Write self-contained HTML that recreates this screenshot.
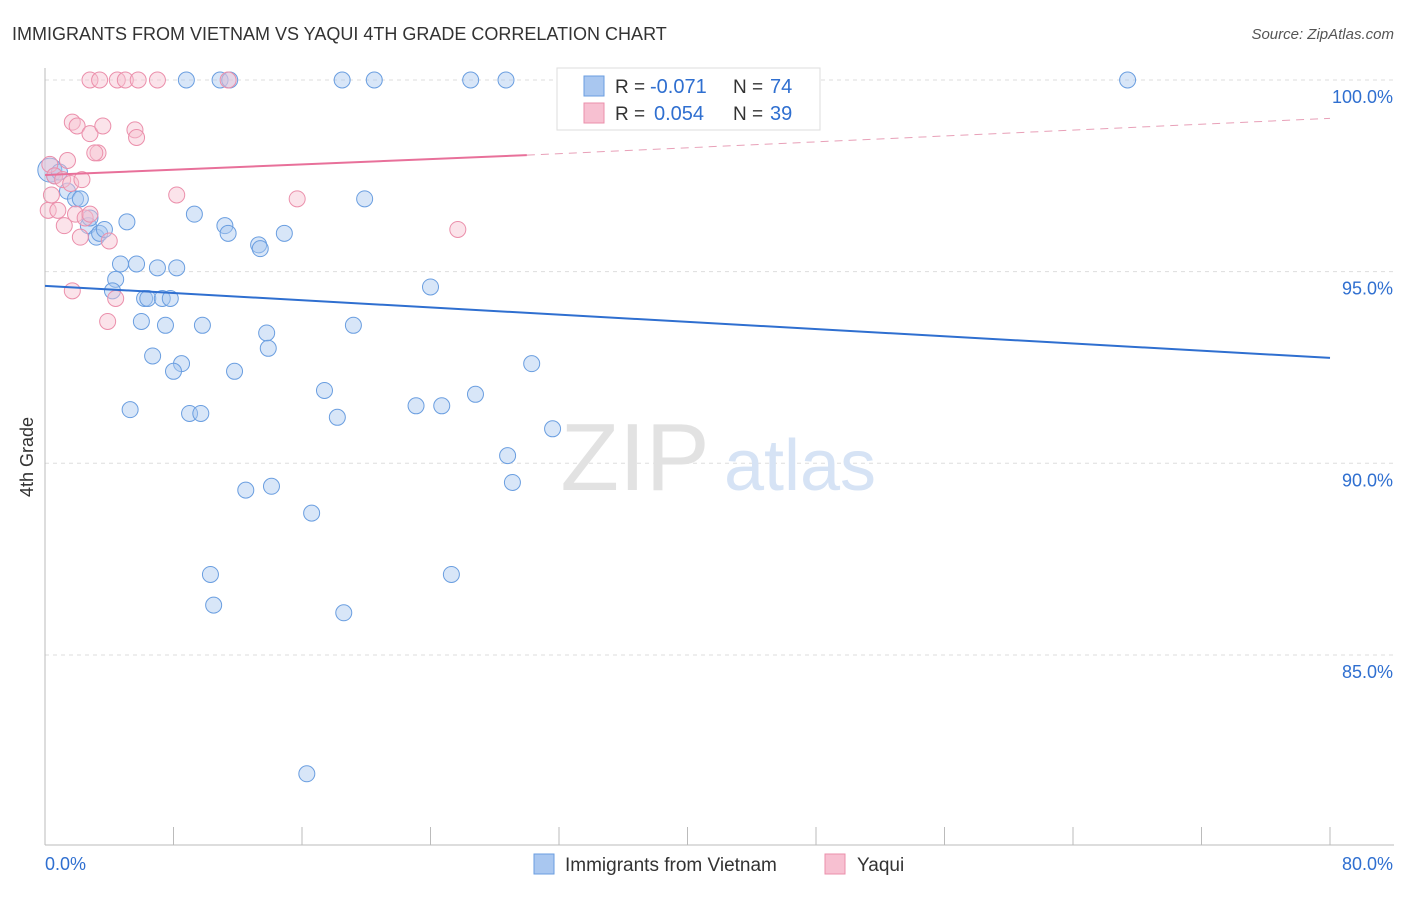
<!DOCTYPE html>
<html><head><meta charset="utf-8"><style>
body{margin:0;background:#fff;font-family:"Liberation Sans",sans-serif;}
svg text{font-family:"Liberation Sans",sans-serif;}
</style></head><body>
<svg width="1406" height="892" viewBox="0 0 1406 892" xmlns="http://www.w3.org/2000/svg">
<text x="12" y="40" font-size="18" fill="#333">IMMIGRANTS FROM VIETNAM VS YAQUI 4TH GRADE CORRELATION CHART</text>
<text x="1394" y="39" font-size="15" fill="#555" text-anchor="end" font-style="italic">Source: ZipAtlas.com</text>
<g id="grid"></g>
<g>
<text x="635" y="490" font-size="96" fill="#e2e2e2" text-anchor="middle" font-family="Liberation Serif">ZIP</text>
<text x="800" y="490" font-size="72" fill="#d6e3f5" text-anchor="middle">atlas</text>
</g>
<g id="axes"></g>
<g id="pts"></g>
<g id="trends"></g>
<g>
<rect x="557" y="68" width="263" height="62" fill="#fff" stroke="#ddd"/>
<rect x="584" y="76" width="20" height="20" fill="#a9c7f0" stroke="#6a9ee0"/>
<text x="615" y="93" font-size="19" fill="#333">R =</text>
<text x="650" y="93" font-size="20" fill="#2f6fd0">-0.071</text>
<text x="733" y="93" font-size="19" fill="#333">N =</text>
<text x="770" y="93" font-size="20" fill="#2f6fd0">74</text>
<rect x="584" y="103" width="20" height="20" fill="#f7c0d1" stroke="#eb8fab"/>
<text x="615" y="120" font-size="19" fill="#333">R =</text>
<text x="654" y="120" font-size="20" fill="#2f6fd0">0.054</text>
<text x="733" y="120" font-size="19" fill="#333">N =</text>
<text x="770" y="120" font-size="20" fill="#2f6fd0">39</text>
</g>
<g>
<rect x="534" y="854" width="20" height="20" fill="#a9c7f0" stroke="#6a9ee0"/>
<text x="565" y="871" font-size="19" fill="#333">Immigrants from Vietnam</text>
<rect x="825" y="854" width="20" height="20" fill="#f7c0d1" stroke="#eb8fab"/>
<text x="857" y="871" font-size="19" fill="#333">Yaqui</text>
</g>
<text x="33" y="457" font-size="18" fill="#333" text-anchor="middle" transform="rotate(-90 33 457)">4th Grade</text>
</svg>
<script>
const yTicks=[100,95,90,85];
const xTickLabels=["0.0%","80.0%"];
const blueX=[0.3,0.6,0.9,1.4,1.9,2.2,2.7,2.8,3.2,3.4,3.7,5.1,4.4,4.7,4.2,5.7,7.0,8.2,6.2,6.4,7.3,7.8,6.0,7.5,9.8,6.7,8.5,8.0,11.8,5.3,9.0,9.7,8.8,10.9,11.5,18.5,20.5,26.5,28.7,67.4,9.3,11.2,11.4,13.3,13.4,14.9,19.9,13.8,13.9,17.4,19.2,18.2,23.1,24.7,26.8,24.0,30.3,31.6,28.8,29.1,12.5,14.1,16.6,10.3,10.5,25.3,18.6,16.3];
const blueY=[97.65,97.5,97.6,97.1,96.9,96.9,96.2,96.4,95.9,96.0,96.1,96.3,94.8,95.2,94.5,95.2,95.1,95.1,94.3,94.3,94.3,94.3,93.7,93.6,93.6,92.8,92.6,92.4,92.4,91.4,91.3,91.3,100,100,100,100,100,100,100,100,96.5,96.2,96.0,95.7,95.6,96.0,96.9,93.4,93.0,91.9,93.6,91.2,91.5,91.5,91.8,94.6,92.6,90.9,90.2,89.5,89.3,89.4,88.7,87.1,86.3,87.1,86.1,81.9];
const pinkX=[0.3,0.6,1.1,1.6,0.2,0.4,0.8,1.2,1.9,2.5,2.8,2.2,4.0,1.7,4.4,3.9,1.7,2.0,2.8,3.6,3.3,3.1,1.4,5.6,5.7,2.8,3.4,4.5,5.0,5.8,7.0,11.4,8.2,15.7,25.7,2.3];
const pinkY=[97.8,97.5,97.4,97.3,96.6,97.0,96.6,96.2,96.5,96.4,96.5,95.9,95.8,94.5,94.3,93.7,98.9,98.8,98.6,98.8,98.1,98.1,97.9,98.7,98.5,100,100,100,100,100,100,100,97.0,96.9,96.1,97.4];
const blueTrendX=[0,80], blueTrendY=[94.63,92.75];
const pinkTrendX=[0,30,80], pinkTrendY=[97.52,98.04,99.0];
const NS="http://www.w3.org/2000/svg";
const X=v=>45+v/80*1285, Y=v=>80+(100-v)*38.33;
function mk(t,a,p){const e=document.createElementNS(NS,t);for(const k in a)e.setAttribute(k,a[k]);p.appendChild(e);return e;}
const grid=document.getElementById('grid'),axes=document.getElementById('axes'),pts=document.getElementById('pts'),tr=document.getElementById('trends');
yTicks.forEach(v=>{
 const l=mk('line',{x1:45,x2:1394,y1:Y(v),y2:Y(v),stroke:'#ddd','stroke-dasharray':'4,4'},grid);
 
 
 const t=mk('text',{x:1393,y:Y(v)+23,'font-size':18,fill:'#2f6fd0','text-anchor':'end'},axes);
 t.textContent=v.toFixed(1)+'%';
 
 
});
mk('line',{x1:45,x2:45,y1:68,y2:845,stroke:'#bbb'},axes);
mk('line',{x1:45,x2:1394,y1:845,y2:845,stroke:'#bbb'},axes);
for(let i=0;i<=10;i++){const t=mk('line',{x1:X(i*8),x2:X(i*8),y1:827,y2:845,stroke:'#bbb'},axes);
 
 }
const l0=mk('text',{x:45,y:870,'font-size':18,fill:'#2f6fd0'},axes);l0.textContent=xTickLabels[0];


const l1=mk('text',{x:1393,y:870,'font-size':18,fill:'#2f6fd0','text-anchor':'end'},axes);l1.textContent=xTickLabels[1];


blueX.forEach((x,i)=>{const c=mk('circle',{cx:X(x),cy:Y(blueY[i]),r:i==0?12:8,fill:'#a9c7f0','fill-opacity':0.45,stroke:'#6a9ee0','stroke-width':1},pts);
 
 });
pinkX.forEach((x,i)=>{const c=mk('circle',{cx:X(x),cy:Y(pinkY[i]),r:8,fill:'#f7c0d1','fill-opacity':0.45,stroke:'#eb8fab','stroke-width':1},pts);
 
 });
const bl=mk('line',{x1:X(blueTrendX[0]),y1:Y(blueTrendY[0]),x2:X(blueTrendX[1]),y2:Y(blueTrendY[1]),stroke:'#2f6fd0','stroke-width':2},tr);


const pl=mk('line',{x1:X(pinkTrendX[0]),y1:Y(pinkTrendY[0]),x2:X(pinkTrendX[1]),y2:Y(pinkTrendY[1]),stroke:'#e8709a','stroke-width':2},tr);


const pd=mk('line',{x1:X(pinkTrendX[1]),y1:Y(pinkTrendY[1]),x2:X(pinkTrendX[2]),y2:Y(pinkTrendY[2]),stroke:'#e8a0b8','stroke-width':1,'stroke-dasharray':'8,6'},tr);


</script>
</body></html>
